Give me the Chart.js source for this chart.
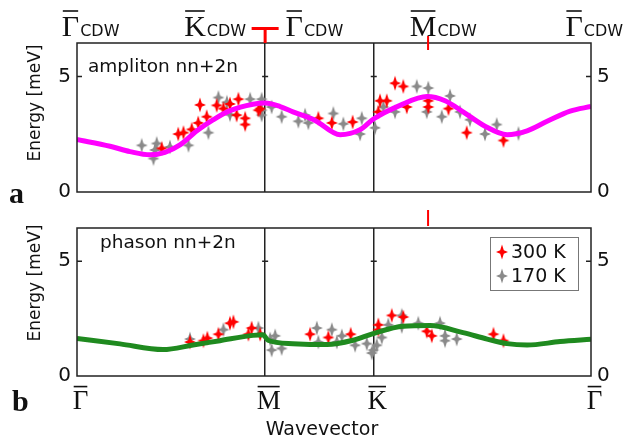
<!DOCTYPE html>
<html>
<head>
<meta charset="utf-8">
<script src="https://cdn.jsdelivr.net/npm/chart.js@4.4.1/dist/chart.umd.min.js"></script>
<style>
html, body { margin: 0; padding: 0; background: #fff; }
#wrap { position: relative; width: 630px; height: 442px; }
canvas { position: absolute; left: 0; }
</style>
</head>
<body>
<div id="wrap">
<canvas id="panelA" width="630" height="210" style="top:0"></canvas>
<canvas id="panelB" width="630" height="232" style="top:210px"></canvas>
</div>
<script>
// path Γ-M-K-Γ, lengths ΓM = √3/2, MK = 1/2, KΓ = 1
var pathTicks = [0, 0.866, 1.366, 2.366];
var pathLabels = ['Γ', 'M', 'K', 'Γ'];
// CDW zone labels along the top
var cdwTicks = [-0.03, 0.543, 1.0, 1.593, 2.288];
var cdwLabels = ['Γ', 'K', 'Γ', 'M', 'Γ'];
var cdwMarks = [0.866, 1.616];
var yTicks = [0, 5];
var yMax = 6.45;

// ampliton model curve
var ampX = [0, 0.152, 0.244, 0.336, 0.405, 0.474, 0.552, 0.626, 0.704, 0.81, 0.866, 0.935, 0.994, 1.096, 1.211, 1.303, 1.363, 1.487, 1.611, 1.694, 1.777, 1.878, 1.98, 2.072, 2.164, 2.27, 2.366];
var ampE = [2.27, 1.98, 1.75, 1.61, 1.72, 2.04, 2.65, 3.12, 3.52, 3.8, 3.85, 3.7, 3.47, 3.1, 2.48, 2.7, 3.15, 3.75, 4.13, 3.95, 3.47, 2.85, 2.48, 2.65, 3.06, 3.5, 3.7];
// phason model curve
var phaX = [0, 0.198, 0.396, 0.534, 0.658, 0.81, 0.856, 0.879, 0.994, 1.151, 1.271, 1.363, 1.501, 1.625, 1.777, 1.888, 1.98, 2.072, 2.224, 2.366];
var phaE = [1.64, 1.4, 1.15, 1.35, 1.54, 1.77, 1.8, 1.56, 1.41, 1.37, 1.56, 1.85, 2.17, 2.2, 1.89, 1.61, 1.41, 1.35, 1.5, 1.6];

// measured points [wavevector, energy]
var amp300 = [[0.39,1.89],[0.466,2.51],[0.49,2.57],[0.528,2.71],[0.558,2.99],[0.597,3.26],[0.566,3.77],[0.643,3.75],[0.674,3.61],[0.704,3.81],[0.743,4.02],[0.735,3.33],[0.774,3.19],[0.774,2.92],[0.835,3.54],[0.843,3.61],[1.111,3.19],[1.173,2.99],[1.269,3.03],[1.387,3.47],[1.464,4.71],[1.502,4.57],[1.395,3.95],[1.426,3.95],[1.518,3.68],[1.617,3.95],[1.617,3.68],[1.71,3.61],[1.794,2.57],[1.963,2.23]];
var amp170 = [[0.298,2.02],[0.352,1.45],[0.367,2.1],[0.359,1.82],[0.428,1.95],[0.513,2.02],[0.605,2.57],[0.651,4.09],[0.69,3.88],[0.797,4.02],[0.85,4.02],[0.85,3.33],[0.704,3.35],[0.85,3.54],[0.896,3.68],[0.942,3.26],[1.019,3.06],[1.05,3.33],[1.065,2.99],[1.18,3.4],[1.226,2.95],[1.311,3.19],[1.303,2.51],[1.372,2.78],[1.41,3.68],[1.464,3.47],[1.564,4.57],[1.617,4.5],[1.61,3.47],[1.679,3.26],[1.717,4.16],[1.763,3.47],[1.809,3.13],[1.878,2.51],[1.932,2.92],[2.032,2.53]];
var pha300 = [[0.52,1.48],[0.582,1.54],[0.6,1.65],[0.651,1.82],[0.704,2.3],[0.72,2.36],[0.804,2.09],[0.789,1.82],[0.843,1.82],[1.073,1.82],[1.157,1.68],[1.26,1.82],[1.387,2.23],[1.387,2.02],[1.449,2.64],[1.502,2.57],[1.61,1.95],[1.633,1.75],[1.917,1.82],[1.963,1.54]];
var pha170 = [[0.52,1.61],[0.674,2.02],[0.835,2.09],[0.889,1.61],[0.912,1.75],[0.896,1.13],[0.942,1.2],[1.104,2.09],[1.111,1.48],[1.173,2.02],[1.196,1.48],[1.219,1.75],[1.28,1.34],[1.334,1.41],[1.357,1.0],[1.364,1.13],[1.38,1.34],[1.403,1.68],[1.433,2.23],[1.495,2.64],[1.495,2.16],[1.571,2.3],[1.671,2.3],[1.694,1.75],[1.694,1.54],[1.748,1.61]];

var RED = '#ff0000';
var GRAY = '#8a8a8a';
var SANS = '"DejaVu Sans", sans-serif';
var SERIF = '"Liberation Serif", "DejaVu Serif", serif';

function starImage(color) {
	var c = document.createElement('canvas');
	c.width = 14;
	c.height = 16;
	var g = c.getContext('2d');
	var cx = 7, cy = 8, rx = 6, ry = 7.5, r = 1.8;
	g.fillStyle = color;
	g.beginPath();
	g.moveTo(cx, cy - ry);
	g.lineTo(cx + r, cy - r);
	g.lineTo(cx + rx, cy);
	g.lineTo(cx + r, cy + r);
	g.lineTo(cx, cy + ry);
	g.lineTo(cx - r, cy + r);
	g.lineTo(cx - rx, cy);
	g.lineTo(cx - r, cy - r);
	g.closePath();
	g.fill();
	return c;
}
var redStar = starImage(RED);
var grayStar = starImage(GRAY);

function toPoints(list) {
	return list.map(function (p) { return { x: p[0], y: p[1] }; });
}
function toCurve(xs, es) {
	return xs.map(function (x, i) { return { x: x, y: es[i] }; });
}

// overline letter with optional subscript
function barLetter(ctx, letter, cx, base, size, sub) {
	ctx.font = size + 'px ' + SERIF;
	var w = ctx.measureText(letter).width;
	ctx.fillStyle = '#111';
	ctx.textAlign = 'left';
	ctx.textBaseline = 'alphabetic';
	var x0 = cx - w / 2;
	ctx.fillText(letter, x0, base);
	ctx.fillRect(x0 + 1, base - size * 0.86, w - 2, 1.6);
	if (sub) {
		ctx.font = '16px ' + SANS;
		ctx.fillText(sub, x0 + w + 1, base);
	}
}

var decor = {
	id: 'decor',
	afterDraw: function (chart) {
		var o = chart.options.plugins.decor;
		var ctx = chart.ctx;
		var a = chart.chartArea;
		var xs = chart.scales.x, ys = chart.scales.y;
		ctx.save();

		// frame
		ctx.strokeStyle = '#222';
		ctx.lineWidth = 1.5;
		ctx.strokeRect(a.left, a.top, a.right - a.left, a.bottom - a.top);

		// inside ticks at 5
		var y5 = ys.getPixelForValue(5);
		ctx.beginPath();
		ctx.moveTo(a.left, y5); ctx.lineTo(a.left + 5, y5);
		ctx.moveTo(a.right - 5, y5); ctx.lineTo(a.right, y5);
		[1, 2].forEach(function (i) {
			var px = xs.getPixelForValue(pathTicks[i]);
			ctx.moveTo(px - 3, y5); ctx.lineTo(px + 3, y5);
		});
		ctx.stroke();

		// panel caption
		ctx.fillStyle = '#111';
		ctx.font = '18.5px ' + SANS;
		ctx.textAlign = 'left';
		ctx.textBaseline = 'alphabetic';
		ctx.fillText(o.caption, o.capX, o.capY);

		// panel letter
		ctx.font = 'bold 30px ' + SERIF;
		ctx.fillText(o.letter, o.letterX, o.letterY);

		// y title
		ctx.save();
		ctx.translate(36, o.titleY);
		ctx.rotate(-Math.PI / 2);
		ctx.font = '17px ' + SANS;
		ctx.textAlign = 'center';
		ctx.textBaseline = 'middle';
		ctx.fillText('Energy [meV]', 0, 0);
		ctx.restore();

		// red CDW marks
		ctx.fillStyle = RED;
		var mx = xs.getPixelForValue(cdwMarks[1]);
		ctx.fillRect(mx - 1, o.redTop, 2, o.redLen);
		if (o.topLabels) {
			var tx = xs.getPixelForValue(cdwMarks[0]);
			ctx.fillRect(tx - 13.5, 27, 27, 3);
			ctx.fillRect(tx - 1.5, 27, 3, a.top - 27);
			cdwLabels.forEach(function (l, i) {
				barLetter(ctx, l, xs.getPixelForValue(cdwTicks[i]), 36, 30, 'CDW');
			});
		}
		if (o.bottomLabels) {
			pathLabels.forEach(function (l, i) {
				barLetter(ctx, l, xs.getPixelForValue(pathTicks[i]) + 3.5, a.bottom + 33, 27);
			});
			ctx.fillStyle = '#111';
			ctx.font = '19px ' + SANS;
			ctx.textAlign = 'center';
			ctx.fillText('Wavevector', (a.left + a.right) / 2 - 12, a.bottom + 59);

			// legend
			var bw = 88, bh = 53;
			var bx = a.right - 13 - bw, by = a.top + 9;
			ctx.fillStyle = '#fff';
			ctx.fillRect(bx, by, bw, bh);
			ctx.strokeStyle = '#777';
			ctx.lineWidth = 1;
			ctx.strokeRect(bx + 0.5, by + 0.5, bw, bh);
			var items = chart.data.datasets.filter(function (d) { return d.showInLegend; });
			items.forEach(function (d, i) {
				var cy = by + 15 + i * 24;
				var img = d.pointStyle;
				ctx.drawImage(img, bx + 12 - img.width / 2, cy - img.height / 2);
				ctx.fillStyle = '#111';
				ctx.font = '19px ' + SANS;
				ctx.textAlign = 'left';
				ctx.textBaseline = 'middle';
				ctx.fillText(d.label, bx + 21, cy + 1);
			});
		}
		ctx.restore();
	}
};

function makePanel(id, cfg) {
	var ctx = document.getElementById(id).getContext('2d');
	var tickFont = { family: SANS, size: 20 };
	var yAxis = function (pos, width) {
		return {
			position: pos,
			min: 0,
			max: yMax,
			afterBuildTicks: function (s) { s.ticks = yTicks.map(function (v) { return { value: v }; }); },
			ticks: { font: tickFont, color: '#111', padding: 6 },
			grid: { display: false, drawTicks: false },
			border: { display: false },
			afterFit: function (s) { s.width = width; }
		};
	};
	return new Chart(ctx, {
		type: 'scatter',
		data: {
			datasets: [
				{
					label: 'model',
					type: 'line',
					data: toCurve(cfg.curveX, cfg.curveE),
					borderColor: cfg.color,
					borderWidth: 5,
					pointRadius: 0,
					cubicInterpolationMode: 'monotone',
					fill: false,
					order: 0
				},
				{
					label: '300 K',
					data: toPoints(cfg.hot),
					pointStyle: redStar,
					showInLegend: true,
					order: 1
				},
				{
					label: '170 K',
					data: toPoints(cfg.cold),
					pointStyle: grayStar,
					showInLegend: true,
					order: 2
				}
			]
		},
		options: {
			responsive: false,
			animation: false,
			devicePixelRatio: 1,
			layout: { padding: { top: cfg.padTop, left: 0, right: 0, bottom: 0 } },
			plugins: {
				legend: { display: false },
				tooltip: { enabled: false },
				decor: cfg.decor
			},
			scales: {
				x: {
					type: 'linear',
					min: 0,
					max: 2.366,
					afterBuildTicks: function (s) { s.ticks = pathTicks.map(function (v) { return { value: v }; }); },
					ticks: { display: false },
					grid: {
						drawTicks: false,
						lineWidth: 1.5,
						color: function (c) { return (c.index === 1 || c.index === 2) ? '#222' : 'rgba(0,0,0,0)'; }
					},
					border: { display: false },
					afterFit: function (s) { s.height = cfg.xHeight; }
				},
				y: yAxis('left', 77),
				y2: yAxis('right', 39)
			}
		},
		plugins: [decor]
	});
}

makePanel('panelA', {
	curveX: ampX, curveE: ampE, color: '#ff00ff', hot: amp300, cold: amp170,
	padTop: 43, xHeight: 11,
	decor: { caption: 'ampliton nn+2n', capX: 88, capY: 72, letter: 'a', letterX: 9, letterY: 203,
		titleY: 103, redTop: 36, redLen: 14, topLabels: true }
});
makePanel('panelB', {
	curveX: phaX, curveE: phaE, color: '#1f8a1f', hot: pha300, cold: pha170,
	padTop: 9, xHeight: 66,
	decor: { caption: 'phason nn+2n', capX: 100, capY: 38, letter: 'b', letterX: 12, letterY: 201,
		titleY: 73, redTop: 0, redLen: 16, bottomLabels: true }
});
</script>
</body>
</html>
